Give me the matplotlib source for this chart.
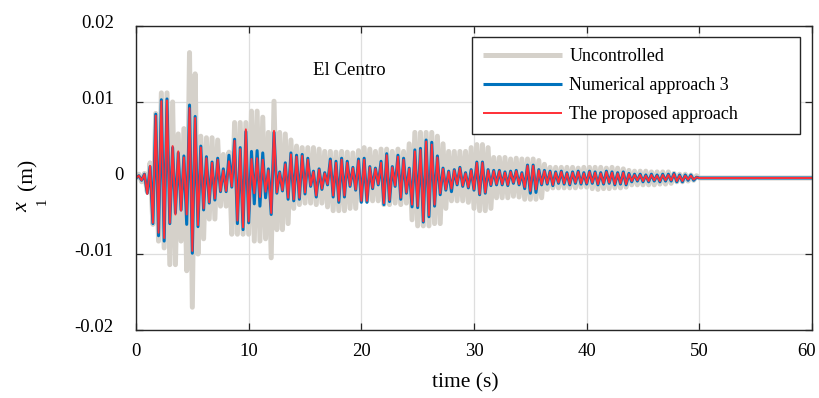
import numpy as np
import matplotlib
matplotlib.use("Agg")
import matplotlib.pyplot as plt
from matplotlib.transforms import ScaledTranslation

plt.rcParams['font.family'] = ['Liberation Serif', 'DejaVu Serif']

# response peaks every 0.25 s from 0 to 49.75 s, then at rest (mm)
dt_peak = 0.25
t_rest = [50.0, 60.0]

uncontrolled = [
    0.0, 0.5, -0.5, 0.6, -1.8, 2.0, -6.1, 8.5, -8.3, 11.2, -9.2, 11.2, -11.4, 10.0, -11.4, 5.8, -8.3, 6.5, -12.2, 16.5,
    -17.0, 13.7, -10.0, 5.5, -8.0, 5.3, -5.4, 5.3, -5.4, 5.0, -3.7, 3.1, -3.7, 3.4, -7.4, 7.3, -7.4, 7.3, -7.4, 7.3,
    -7.4, 8.8, -8.3, 8.8, -8.3, 8.0, -8.0, 6.0, -10.5, 10.1, -6.8, 6.0, -6.8, 5.8, -6.0, 5.0, -4.0, 4.2, -3.5, 4.0,
    -3.3, 4.0, -3.3, 4.0, -3.5, 3.8, -3.3, 3.5, -3.8, 3.5, -4.3, 3.4, -4.3, 3.5, -4.3, 3.4, -4.0, 3.3, -4.0, 3.6,
    -3.0, 4.0, -3.0, 3.8, -3.0, 3.5, -3.0, 3.8, -3.5, 3.8, -3.5, 3.5, -3.3, 3.8, -3.5, 3.5, -3.3, 4.5, -5.5, 6.0,
    -6.3, 6.0, -6.3, 6.0, -6.3, 6.0, -6.0, 5.5, -6.0, 4.5, -4.0, 3.5, -3.0, 3.5, -3.0, 3.5, -3.0, 3.5, -3.2, 4.0,
    -4.0, 4.4, -4.3, 4.4, -4.3, 4.0, -4.0, 2.7, -2.6, 2.7, -2.6, 2.7, -2.6, 2.5, -2.4, 2.6, -2.5, 2.5, -2.8, 2.5,
    -2.8, 2.5, -2.8, 2.3, -2.6, 1.8, -1.5, 1.4, -1.3, 1.4, -1.3, 1.4, -1.3, 1.4, -1.3, 1.4, -1.3, 1.3, -1.2, 1.4,
    -1.2, 1.4, -1.4, 1.4, -1.5, 1.4, -1.4, 1.3, -1.4, 1.4, -1.3, 1.3, -1.3, 1.2, -1.2, 1.0, -0.9, 0.9, -0.9, 0.9,
    -0.9, 0.9, -0.9, 0.8, -0.9, 0.8, -0.8, 0.8, -0.8, 0.8, -0.7, 0.6, -0.5, 0.5, -0.5, 0.5, -0.4, 0.4, -0.3, 0.3,
    0.0, 0.0,
]

numerical3 = [
    0.0, 0.3, -0.3, 0.5, -2.0, 1.5, -6.0, 8.4, -7.6, 10.3, -8.3, 10.4, -6.0, 4.0, -4.6, 3.3, -4.2, 2.9, -6.1, 9.6,
    -9.9, 8.1, -6.4, 4.2, -4.2, 2.8, -3.3, 2.1, -2.9, 2.6, -1.8, 1.2, -1.8, 3.0, -1.2, 5.1, -6.0, 4.0, -6.8, 6.1,
    -5.9, 3.5, -3.4, 3.6, -3.7, 3.3, -2.6, 1.2, -4.8, 6.0, -2.0, 0.8, -1.7, 2.0, -2.8, 3.3, -3.0, 3.0, -2.8, 3.1,
    -2.1, 2.6, -1.1, 0.9, -2.5, 1.2, -1.5, 0.7, -0.9, 2.5, -2.5, 2.2, -3.2, 2.6, -2.5, 2.2, -1.1, 1.4, -1.6, 2.5,
    -3.2, 2.6, -3.2, 1.5, -1.4, 1.3, -0.9, 2.2, -3.5, 3.2, -3.1, 1.5, -1.1, 3.0, -2.8, 2.6, -2.0, 1.3, -3.8, 3.7,
    -3.9, 3.9, -5.8, 5.0, -5.1, 4.7, -3.7, 2.9, -2.2, 1.3, -1.6, 0.9, -1.8, 1.1, -0.9, 1.4, -1.1, 0.7, -1.3, 1.1,
    -1.6, 2.1, -2.2, 2.1, -2.0, 1.1, -1.0, 1.0, -0.9, 1.0, -0.9, 0.8, -1.0, 0.9, -0.7, 1.0, -0.9, 0.7, -1.4, 1.7,
    -2.0, 1.7, -1.9, 1.1, -0.9, 1.0, -0.8, 0.9, -1.0, 0.8, -0.7, 0.9, -0.8, 0.7, -0.9, 0.8, -0.7, 0.9, -0.8, 0.7,
    -0.8, 0.9, -0.7, 0.8, -0.9, 0.7, -0.8, 0.9, -0.7, 0.8, -0.9, 0.7, -0.8, 0.8, -0.9, 0.6, -0.5, 0.5, -0.4, 0.5,
    -0.5, 0.4, -0.5, 0.5, -0.4, 0.4, -0.5, 0.5, -0.4, 0.5, -0.4, 0.6, -0.5, 0.4, -0.5, 0.4, -0.3, 0.4, -0.3, 0.1,
    0.0, 0.0,
]

proposed = [
    0.0, 0.3, -0.3, 0.5, -2.1, 1.6, -5.9, 8.2, -7.2, 10.1, -7.9, 10.2, -5.9, 4.2, -4.8, 3.5, -4.3, 2.7, -4.8, 9.2,
    -9.6, 7.9, -6.2, 4.0, -4.0, 2.6, -3.2, 2.0, -2.7, 2.4, -1.7, 1.0, -1.7, 2.2, -1.1, 4.9, -5.6, 3.8, -6.5, 6.4,
    -5.7, 2.5, -2.0, 2.6, -2.5, 2.4, -1.8, 1.0, -4.6, 6.2, -1.9, 0.7, -1.6, 1.8, -2.6, 3.1, -2.8, 2.8, -2.6, 2.9,
    -1.9, 2.4, -1.0, 0.8, -2.3, 1.1, -1.4, 0.6, -0.8, 2.3, -2.3, 2.0, -3.0, 2.4, -2.3, 2.0, -1.0, 1.3, -1.5, 2.3,
    -3.0, 2.4, -3.0, 1.4, -1.3, 1.2, -0.8, 2.0, -3.3, 3.0, -2.9, 1.4, -1.0, 2.8, -2.6, 2.4, -1.9, 1.2, -3.5, 3.5,
    -3.7, 3.7, -5.7, 4.8, -4.9, 4.4, -3.5, 2.7, -2.0, 1.2, -1.5, 0.8, -1.4, 1.0, -0.8, 1.3, -1.0, 0.6, -1.2, 1.0,
    -1.5, 2.0, -2.1, 2.0, -1.9, 1.0, -0.9, 0.9, -0.8, 0.9, -0.8, 0.7, -0.9, 0.8, -0.6, 0.9, -0.8, 0.6, -1.2, 1.6,
    -1.7, 1.6, -1.5, 1.0, -0.8, 0.9, -0.7, 0.8, -0.9, 0.7, -0.6, 0.8, -0.7, 0.6, -0.8, 0.7, -0.6, 0.8, -0.7, 0.6,
    -0.7, 0.8, -0.6, 0.7, -0.8, 0.6, -0.7, 0.8, -0.6, 0.7, -0.8, 0.6, -0.7, 0.7, -0.8, 0.5, -0.4, 0.4, -0.3, 0.4,
    -0.4, 0.3, -0.4, 0.4, -0.3, 0.3, -0.4, 0.4, -0.3, 0.4, -0.3, 0.5, -0.4, 0.3, -0.4, 0.3, -0.2, 0.3, -0.2, 0.1,
    0.0, 0.0,
]

labels = ['Uncontrolled', 'Numerical approach 3', 'The proposed approach']
colors = ['#d5d1ca', '#0072bd', '#ff2f36']
widths = [3.6, 2.2, 1.4]

n_pk = len(proposed) - len(t_rest)
t = np.concatenate([np.arange(n_pk) * dt_peak, t_rest])

fig = plt.figure(figsize=(8.19, 3.98), dpi=100)
ax = fig.add_axes([136/819, 1 - 330/398, (812 - 136)/819, (330 - 26)/398])

for y, lab, c, lw in zip([uncontrolled, numerical3, proposed], labels, colors, widths):
    ax.plot(t, np.array(y) * 1e-3, color=c, lw=lw, label=lab,
            solid_joinstyle='round', solid_capstyle='round')

ax.set_xlim(0, 60)
ax.set_ylim(-0.02, 0.02)
ax.set_xticks(np.arange(0, 61, 10))
ax.set_yticks([-0.02, -0.01, 0, 0.01, 0.02])
ax.set_yticklabels(['-0.02', '-0.01', '0', '0.01', '0.02'])
ax.grid(True, color='#dedede', lw=0.9)
ax.set_axisbelow(True)
ax.tick_params(direction='in', length=5, width=0.9, top=True, right=True,
               labelsize=13.5, colors='#262626', labelcolor='black')
ax.tick_params(axis='x', pad=9)
ax.tick_params(axis='y', pad=16)
for s in ax.spines.values():
    s.set_color('#262626')
    s.set_linewidth(1.0)

# nudge y tick labels upward, the zero label right, and keep "60" inside
for lbl in ax.get_yticklabels():
    dx = 10 / 100 if lbl.get_text() == '0' else 0
    lbl.set_transform(lbl.get_transform() + ScaledTranslation(dx, 4 / 100, fig.dpi_scale_trans))
xl = ax.get_xticklabels()
xl[-1].set_transform(xl[-1].get_transform() + ScaledTranslation(-5 / 100, 0, fig.dpi_scale_trans))

ax.text(18.9, 0.0141, 'El Centro', fontsize=13.5, ha='center', va='center')

fig.text(465/819, 1 - 383/398, 'time (s)', fontsize=15.5, ha='center', va='center')
fig.text(22.5/819, 1 - 207/398, 'x', fontsize=16, style='italic', rotation=90, ha='center', va='center')
fig.text(42.5/819, 1 - 201/398, '1', fontsize=10.5, rotation=90, ha='center', va='center')
fig.text(28/819, 1 - 174/398, '(m)', fontsize=15.5, rotation=90, ha='center', va='center')

leg = ax.legend(loc='upper left', bbox_to_anchor=(472/819, 1 - 130/398, 328/819, 93/398),
                bbox_transform=fig.transFigure, mode='expand', fontsize=13, frameon=True,
                fancybox=False, framealpha=1, edgecolor='#262626',
                handlelength=4.4, handletextpad=0.4, labelspacing=0.67,
                borderpad=0.6, borderaxespad=0)
leg.get_frame().set_linewidth(1.0)
for h in leg.get_lines():
    h.set_solid_capstyle('butt')

fig.savefig('out.png', dpi=100)
